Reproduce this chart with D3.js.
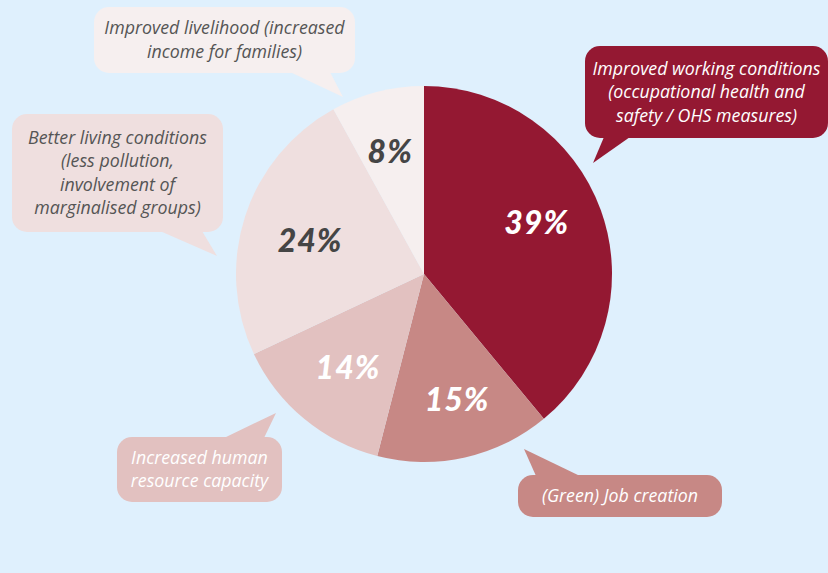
<!DOCTYPE html>
<html><head><meta charset="utf-8">
<script src="https://cdn.jsdelivr.net/npm/d3@7"></script>
<style>
html,body{margin:0;padding:0;background:#fff;}
svg{display:block;}
</style></head>
<body>
<svg id="chart" width="828" height="573"></svg>
<script>
// ---- data ----
const categories = [
  "Improved working conditions (occupational health and safety / OHS measures)",
  "(Green) Job creation",
  "Increased human resource capacity",
  "Better living conditions (less pollution, involvement of marginalised groups)",
  "Improved livelihood (increased income for families)"
];
const values = [39, 15, 14, 24, 8];
const valueLabels = ["39%", "15%", "14%", "24%", "8%"];
const calloutLines = [
  ["Improved working conditions", "(occupational health and", "safety / OHS measures)"],
  ["(Green) Job creation"],
  ["Increased human", "resource capacity"],
  ["Better living conditions", "(less pollution,", "involvement of", "marginalised groups)"],
  ["Improved livelihood (increased", "income for families)"]
];

// ---- styles / layout ----
const colors = ["#941832", "#c78885", "#e2c1c0", "#efdfdf", "#f6efef"];
const pctColors = ["#ffffff", "#ffffff", "#ffffff", "#454545", "#454545"];
const calloutText = ["#ffffff", "#ffffff", "#ffffff", "#555555", "#555555"];
const pctNudge = [[-4,-10],[6,4],[3,-2],[4,5],[-3,-2]];
// box: x, y, w, h ; tail: [base1, base2, tip]
const boxes = [
  {x:585, y:46, w:243, h:92, tail:[[604,137],[630,137],[593,163]]},
  {x:518, y:475, w:204, h:42, tail:[[536,476],[580,476],[524,449]]},
  {x:117, y:437, w:165, h:65, tail:[[224,438],[264,438],[276,413]]},
  {x:12, y:114, w:211, h:118, tail:[[160,231],[202,231],[217,256]]},
  {x:94, y:7, w:261, h:66, tail:[[290,72],[330,72],[343,97]]}
];
const lineH = 23.5;

const svg = d3.select("#chart");
const W = 828, H = 573;
svg.append("rect").attr("x",0).attr("y",0).attr("width",W).attr("height",H)
  .attr("fill","#dff0fd");

const cx = 424, cy = 274, R = 188;
const pie = d3.pie().sort(null).value(d => d)(values);
const arc = d3.arc().innerRadius(0).outerRadius(R);
const labelArc = d3.arc().innerRadius(124).outerRadius(124);

const g = svg.append("g").attr("transform", `translate(${cx},${cy})`);
g.selectAll("path.slice").data(pie).join("path")
  .attr("class","slice")
  .attr("d", arc)
  .attr("fill", (d,i) => colors[i]);

g.selectAll("text.pct").data(pie).join("text")
  .attr("class","pct")
  .attr("transform", (d,i) => {
    const c = labelArc.centroid(d);
    return `translate(${c[0]+pctNudge[i][0]},${c[1]+pctNudge[i][1]})`;
  })
  .attr("text-anchor","middle")
  .attr("dy","0.36em")
  .attr("fill", (d,i) => pctColors[i])
  .style("font-family","Lato, 'Open Sans', sans-serif")
  .style("font-style","italic")
  .style("font-weight","900")
  .style("font-size","32px")
  .style("letter-spacing","1px")
  .text((d,i) => valueLabels[i]);

// callouts
const cg = svg.append("g");
boxes.forEach((b,i) => {
  const grp = cg.append("g");
  grp.append("rect").attr("x",b.x).attr("y",b.y).attr("width",b.w).attr("height",b.h)
    .attr("rx",15).attr("ry",15).attr("fill",colors[i]);
  grp.append("path").attr("d", d3.line()(b.tail) + "Z").attr("fill", colors[i]);
  const lines = calloutLines[i];
  const midY = b.y + b.h/2;
  const startY = midY - (lines.length-1)*lineH/2;
  const t = grp.append("text")
    .attr("text-anchor","middle")
    .attr("fill", calloutText[i])
    .style("font-family","'Open Sans', sans-serif")
    .style("font-style","italic")
    .style("font-size","17.8px");
  lines.forEach((ln,j) => {
    t.append("tspan").attr("x", b.x + b.w/2).attr("y", startY + j*lineH).attr("dy","0.35em").text(ln);
  });
});
</script>
</body></html>
